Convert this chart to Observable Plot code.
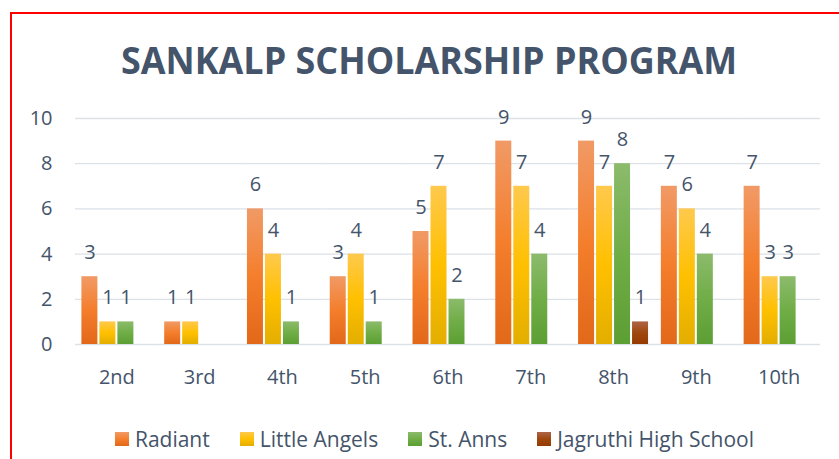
<!DOCTYPE html>
<html>
<head>
<meta charset="utf-8">
<script src="https://cdn.jsdelivr.net/npm/d3@7"></script>
<script src="https://cdn.jsdelivr.net/npm/@observablehq/plot@0.6"></script>
<style>
  html, body { margin: 0; padding: 0; background: #fff; overflow: hidden; width: 839px; height: 459px; }
  body { font-family: "Open Sans", sans-serif; color: #44546A; position: relative; }
  #frame { position: absolute; left: 10px; top: 12px; width: 1000px; height: 1000px; border: 2px solid #FF0000; box-sizing: border-box; pointer-events: none; }
  #title { height: 100px; box-sizing: border-box; padding-top: 40px; padding-left: 19px; text-align: center; font-size: 38px; line-height: 38px; font-weight: 700; color: #44546A; white-space: nowrap; }
  #title span { display: inline-block; transform-origin: 50% 50%; }
  #chart svg { display: block; }
  #legend { height: 59px; box-sizing: border-box; padding-top: 18px; padding-left: 30px; display: flex; justify-content: center; align-items: center; font-size: 21px; line-height: 20px; color: #44546A; white-space: nowrap; }
  .item { display: flex; align-items: center; margin: 0 15px; }
  .sw { width: 14px; height: 14px; margin-right: 6px; }
</style>
</head>
<body>
<div id="title"><span>SANKALP SCHOLARSHIP PROGRAM</span></div>
<div id="chart"></div>
<div id="legend"></div>
<div id="frame"></div>
<script>
const grades = ["2nd", "3rd", "4th", "5th", "6th", "7th", "8th", "9th", "10th"];
const series = ["Radiant", "Little Angels", "St. Anns", "Jagruthi High School"];
const radiant      = [3, 1, 6, 3, 5, 9, 9, 7, 7];
const littleAngels = [1, 1, 4, 4, 7, 7, 7, 6, 3];
const stAnns       = [1, null, 1, 1, 2, 4, 8, 4, 3];
const jagruthi     = [null, null, null, null, null, null, 1, null, null];
const yTicks = [0, 2, 4, 6, 8, 10];
// gradient stops per series: light top, base, dark bottom
const gradStops = [
  ["#F19A66", "#F47E2C", "#E2681A"],
  ["#FFC94D", "#FFC000", "#E3AE00"],
  ["#8CBB6C", "#70AD47", "#5C9F33"],
  ["#AE6548", "#9E480E", "#963A00"]
];

const seriesValues = [radiant, littleAngels, stAnns, jagruthi];
const rows = [];
grades.forEach((g, gi) => {
  series.forEach((s, si) => {
    const v = seriesValues[si][gi];
    if (v != null) rows.push({grade: g, series: s, value: v});
  });
});
const gradIds = series.map((s, i) => "grad" + i);

const chart = Plot.plot({
  width: 839,
  height: 300,
  marginTop: 18,
  marginBottom: 56,
  marginLeft: 75,
  marginRight: 19,
  style: {fontFamily: "Open Sans, sans-serif", fontSize: "20px", color: "#44546A", background: "transparent"},
  facet: {data: rows, x: "grade"},
  fx: {domain: grades, padding: 0, round: false, axis: "bottom", tickSize: 0, tickPadding: 25, label: null},
  x: {domain: series, paddingInner: 0.111, paddingOuter: 0.356, round: false, axis: null},
  y: {domain: [0, 10], ticks: yTicks, tickSize: 0, tickPadding: 23, label: null, axis: "left"},
  color: {domain: series, range: gradIds.map(id => `url(#${id})`)},
  marks: [
    Plot.ruleY(yTicks, {stroke: "#DCE1E8", strokeWidth: 1.3}),
    Plot.barY(rows, {x: "series", y: "value", fill: "series"}),
    Plot.text(rows, {x: "series", y: "value", text: d => String(d.value), dy: -24, fontSize: 20, fill: "#44546A"})
  ]
});

const defs = d3.select(chart).insert("defs", ":first-child");
gradStops.forEach((stops, i) => {
  const lg = defs.append("linearGradient").attr("id", gradIds[i])
    .attr("x1", 0).attr("y1", 0).attr("x2", 0).attr("y2", 1);
  lg.append("stop").attr("offset", "0%").attr("stop-color", stops[0]);
  lg.append("stop").attr("offset", "50%").attr("stop-color", stops[1]);
  lg.append("stop").attr("offset", "100%").attr("stop-color", stops[2]);
});
document.getElementById("chart").appendChild(chart);

const legend = document.getElementById("legend");
series.forEach((s, i) => {
  const item = document.createElement("div");
  item.className = "item";
  const sw = document.createElement("div");
  sw.className = "sw";
  sw.style.background = `linear-gradient(to bottom, ${gradStops[i][0]}, ${gradStops[i][1]} 50%, ${gradStops[i][2]})`;
  const label = document.createElement("span");
  label.textContent = s;
  item.appendChild(sw);
  item.appendChild(label);
  legend.appendChild(item);
});

function fitTitle() {
  const span = document.querySelector("#title span");
  span.style.transform = "none";
  const w = span.getBoundingClientRect().width;
  if (w > 0) span.style.transform = `scaleX(${616 / w})`;
}
fitTitle();
if (document.fonts && document.fonts.ready) document.fonts.ready.then(fitTitle);
</script>
</body>
</html>
